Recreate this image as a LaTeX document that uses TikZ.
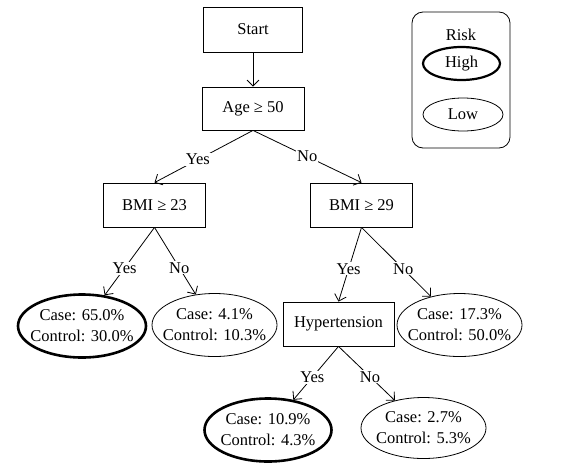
\documentclass[tikz,border=0pt]{standalone}
\usepackage{fontspec}
\setmainfont{Liberation Serif}
\usetikzlibrary{shapes.geometric,arrows.meta}
\begin{document}
\begin{tikzpicture}[x=1pt,y=-1pt,>={Straight Barb[length=6pt,width=12pt]}]
        \tikzstyle{test}=[rectangle,draw=black,line width=0.8pt,minimum width=102pt,minimum height=44pt,inner sep=2pt]
        \tikzstyle{leaf}=[ellipse,draw=black,line width=0.8pt,minimum width=125pt,minimum height=63pt,inner xsep=-8pt,inner ysep=0pt,align=center]
        \tikzstyle{high}=[leaf,line width=2.6pt,minimum width=127pt]
        \tikzstyle{branch}=[draw,line width=0.8pt,->]
        \tikzstyle{answer}=[fill=white,inner sep=1pt]
        \useasboundingbox (0,0) rectangle (561,464);
        \begin{scope}[font=\fontsize{16.5}{21}\selectfont]
           % decision nodes
           \node [test,minimum width=99pt,minimum height=45pt] (start) at (253,29.5) {Start};
           \node [test,minimum height=43pt] (age) at (253,108.5) {Age ≥ 50};
           \node [test] (bmi23) at (154.5,205) {BMI ≥ 23};
           \node [test] (bmi29) at (361.5,205) {BMI ≥ 29};
           \node [test,minimum width=111pt] (hyp) at (338.5,324) {Hypertension};
           % leaves
           \node [high,minimum width=128pt] (l1) at (82,326) {Case: 65.0\%\\Control: 30.0\%};
           \node [leaf] (l2) at (214.5,325) {Case: 4.1\%\\Control: 10.3\%};
           \node [leaf] (l3) at (459.5,325) {Case: 17.3\%\\Control: 50.0\%};
           \node [high] (l4) at (268,430) {Case: 10.9\%\\Control: 4.3\%};
           \node [leaf,minimum height=61pt] (l5) at (423.5,428) {Case: 2.7\%\\Control: 5.3\%};
           % connectors
           \draw[branch] (start.south) -- (age.north);
           \draw[branch] (age.south) -- node[answer,pos=0.56] {Yes} (bmi23.north);
           \draw[branch] (age.south) -- node[answer,pos=0.5] {No} (bmi29.north);
           \draw[branch] (bmi23.south) -- node[answer,pos=0.6] {Yes} (l1);
           \draw[branch] (bmi23.south) -- node[answer,pos=0.6] {No} (l2);
           \draw[branch] (bmi29.south) -- node[answer,pos=0.56] {Yes} (hyp.north);
           \draw[branch] (bmi29.south) -- node[answer,pos=0.6] {No} (l3);
           \draw[branch] (hyp.south) -- node[answer,pos=0.58] {Yes} (l4.50);
           \draw[branch] (hyp.south) -- node[answer,pos=0.56] {No} (l5);
           % legend
           \node [rectangle,draw=black,line width=0.8pt,rounded corners=11pt,minimum width=98pt,minimum height=136pt] (legend) at (461,80) {};
           \node (risk) at (461,35) {Risk};
           \node [high,minimum width=77pt,minimum height=33pt,line width=2.2pt] (hi) at (461.5,63.5) {High};
           \node [leaf,minimum width=80pt,minimum height=33pt] (lo) at (463,114.5) {Low};
        \end{scope}
      \end{tikzpicture}
\end{document}
